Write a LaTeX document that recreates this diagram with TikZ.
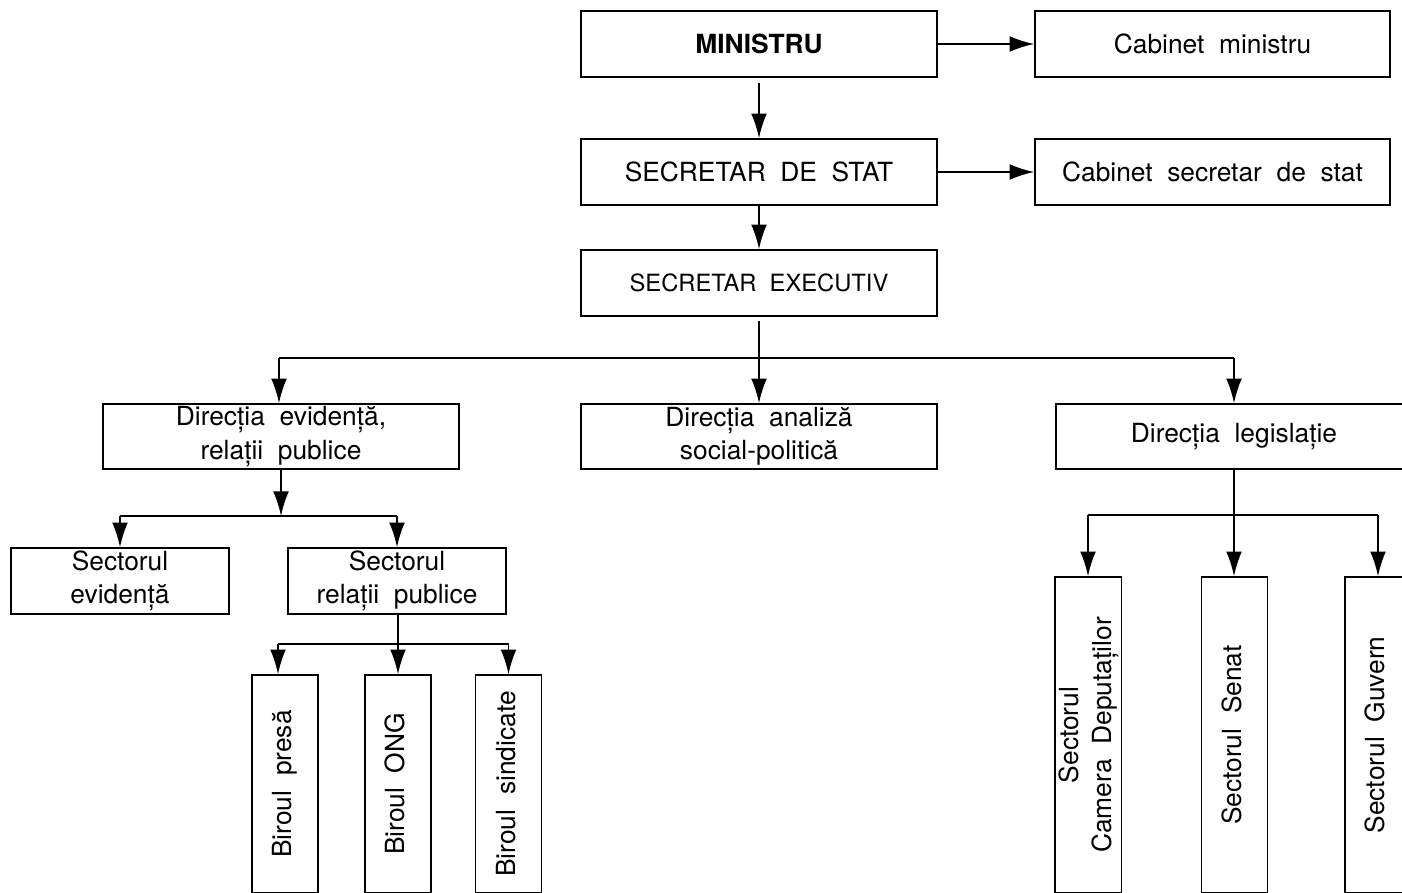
\documentclass[tikz,border=0pt]{standalone}
\usepackage{fontspec}
\setmainfont{TeX Gyre Heros}[WordSpace=2.0]
\usetikzlibrary{arrows.meta}
\tikzset{
  box/.style={
    rectangle, draw=black, line width=1pt, inner sep=0pt,
    minimum width=7.12cm, minimum height=1.32cm,
    align=center, font=\fontsize{15}{19}\selectfont
  },
  smallbox/.style={
    box, minimum width=4.36cm
  },
  vbox/.style={
    box, minimum width=1.32cm
  },
  arrow/.style={
    -{Latex[length=14pt,width=9pt]}, line width=1pt
  },
  bus/.style={
    line width=1pt
  }
}
\newcommand{\vtext}[1]{\rotatebox{90}{\begin{tabular}{@{}c@{}}#1\end{tabular}}}

\begin{document}
\begin{tikzpicture}[x=0.02cm, y=-0.02cm]
\useasboundingbox (0,0) rectangle (1402,892);

% conducere
\node[box, font=\fontsize{15}{19}\selectfont\bfseries] (min) at (759,44) {MINISTRU};
\node[box, minimum width=7.1cm] (cabm) at (1212.5,44) {Cabinet ministru};
\node[box] (sds) at (759,172) {SECRETAR DE STAT};
\node[box, minimum width=7.1cm] (cabs) at (1212.5,172) {Cabinet secretar de stat};
\node[box, font=\fontsize{13.5}{16}\selectfont] (sex) at (759,283) {SECRETAR EXECUTIV};

% directii
\node[box, minimum height=1.3cm] (dev) at (281,436.5) {Direcția evidență,\\relații publice};
\node[box, minimum height=1.3cm] (dan) at (759,436.5) {Direcția analiză\\social-politică};
\node[box, minimum height=1.3cm] (dleg) at (1234,436.5) {Direcția legislație};

% sectoare
\node[smallbox] (sev) at (120,581) {Sectorul\\evidență};
\node[smallbox] (srp) at (397,581) {Sectorul\\relații publice};

% birouri
\node[vbox, minimum height=4.36cm] (bpr) at (285,784) {\vtext{Biroul presă}};
\node[vbox, minimum height=4.36cm] (bong) at (398,784) {\vtext{Biroul ONG}};
\node[vbox, minimum height=4.36cm] (bsin) at (508.5,784) {\vtext{Biroul sindicate}};

\node[vbox, minimum height=6.32cm] (scd) at (1088,735) {\vtext{Sectorul\\Camera Deputaților}};
\node[vbox, minimum height=6.32cm] (ssen) at (1234.5,735) {\vtext{Sectorul Senat}};
\node[vbox, minimum height=6.32cm] (sguv) at (1378,735) {\vtext{Sectorul Guvern}};

% ramificatii
\coordinate (b1) at (759,358);
\coordinate (b2) at (281,516);
\coordinate (b3) at (398,644);
\coordinate (b4) at (1234,515);

\draw[arrow] (min) -- (cabm);
\draw[arrow] (sds) -- (cabs);
\draw[arrow] ([yshift=-0.1cm]min.south) -- (sds);
\draw[arrow] (sds) -- (sex);

\draw[arrow] ([yshift=-0.08cm]sex.south) -- (dan);
\draw[bus] ([xshift=-0.04cm]dev.north |- b1) -- (dleg.north |- b1);
\draw[arrow] ([xshift=-0.04cm]dev.north |- b1) -- ([xshift=-0.04cm]dev.north);
\draw[arrow] (dleg.north |- b1) -- (dleg.north);

\draw[arrow] (dev) -- (b2);
\draw[bus] (sev.north |- b2) -- (srp.north |- b2);
\draw[arrow] (sev.north |- b2) -- (sev.north);
\draw[arrow] (srp.north |- b2) -- (srp.north);

\draw[arrow] (srp.south -| bong.north) -- (bong.north);
\draw[bus] ([xshift=-0.14cm]bpr.north |- b3) -- (bsin.north |- b3);
\draw[arrow] ([xshift=-0.14cm]bpr.north |- b3) -- ([xshift=-0.14cm]bpr.north);
\draw[arrow] (bsin.north |- b3) -- (bsin.north);

\draw[arrow] (dleg.south) -- (dleg.south |- ssen.north);
\draw[bus] (scd.north |- b4) -- (sguv.north |- b4);
\draw[arrow] (scd.north |- b4) -- (scd.north);
\draw[arrow] (sguv.north |- b4) -- (sguv.north);
\end{tikzpicture}
\end{document}
